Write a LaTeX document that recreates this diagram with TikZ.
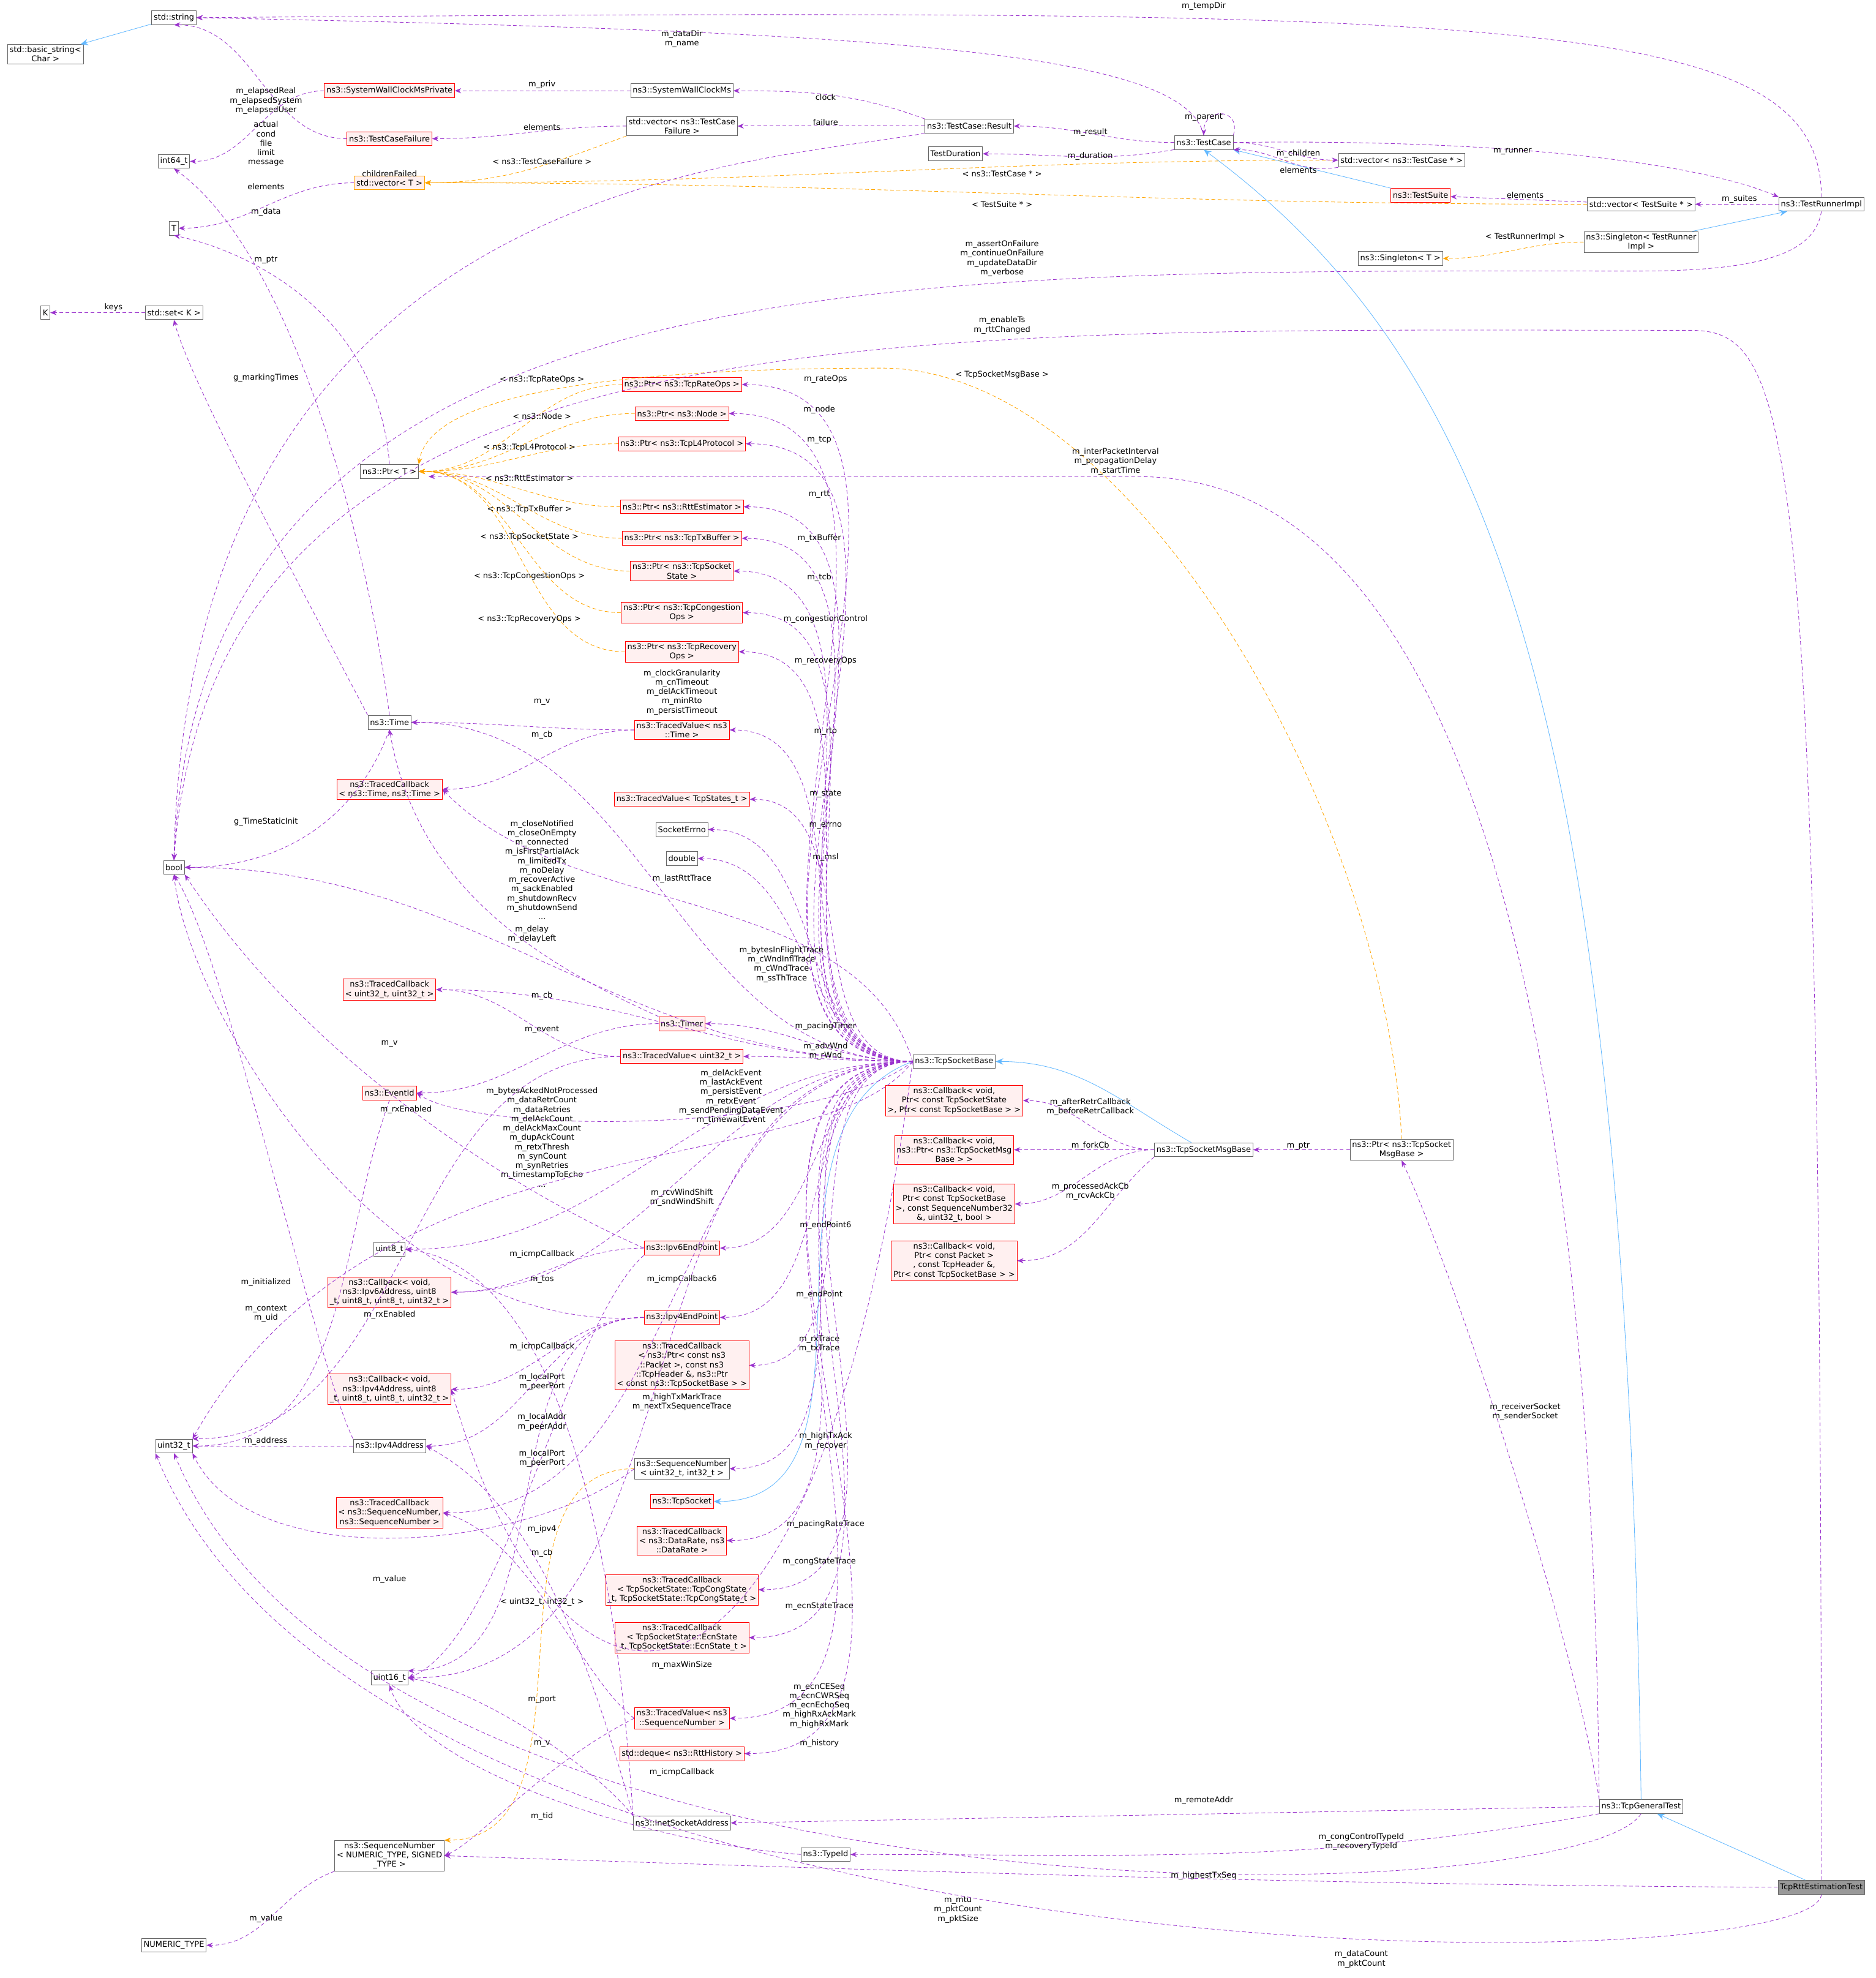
\documentclass[tikz,border=0pt]{standalone}
\usepackage{fontspec}
\setmainfont{DejaVu Sans}
\usetikzlibrary{arrows.meta}
\definecolor{puse}{RGB}{154,50,205}
\definecolor{inhc}{RGB}{99,184,255}
\definecolor{tpc}{RGB}{255,165,0}
\begin{document}
\begin{tikzpicture}[x=1pt,y=-1pt,
 box/.style={draw=black!60, rectangle, inner sep=1.6pt, minimum height=11pt, align=center, font=\fontsize{6.3}{7.4}\selectfont, fill=white},
 rbox/.style={box, draw=red, fill=red!6},
 gbox/.style={box, fill=black!40},
 use/.style={draw=puse, dash pattern=on 3pt off 2pt, -{Stealth[length=5pt,width=4pt]}},
 tmpl/.style={draw=tpc, dash pattern=on 3pt off 2pt, -{Stealth[length=5pt,width=4pt]}},
 inh/.style={draw=inhc, -{Stealth[length=6pt,width=5pt,fill=inhc]}},
 lab/.style={font=\fontsize{6.3}{7.4}\selectfont, align=center, inner sep=0.5pt}]
\useasboundingbox (0,0) rectangle (1488,1569);
% ---------- nodes
\node[box] (bs) at (36,43) {std::basic\_string\textless\\Char \textgreater};
\node[box] (str) at (138,14) {std::string};
\node[rbox] (swcp) at (309,72) {ns3::SystemWallClockMsPrivate};
\node[box] (swc) at (541,72) {ns3::SystemWallClockMs};
\node[box] (i64) at (138,128) {int64\_t};
\node[rbox] (tcf) at (309,110) {ns3::TestCaseFailure};
\node[box] (vtcf) at (541,100) {std::vector\textless{} ns3::TestCase\\Failure \textgreater};
\node[box] (res) at (769,100) {ns3::TestCase::Result};
\node[box] (tdur) at (758,122) {TestDuration};
\node[box] (tc) at (955,113) {ns3::TestCase};
\node[box] (vtc) at (1112,127) {std::vector\textless{} ns3::TestCase * \textgreater};
\node[rbox] (ts) at (1127,155) {ns3::TestSuite};
\node[box] (vts) at (1302,162) {std::vector\textless{} TestSuite * \textgreater};
\node[box] (tri) at (1445,162) {ns3::TestRunnerImpl};
\node[box] (stri) at (1302,192) {ns3::Singleton\textless{} TestRunner\\Impl \textgreater};
\node[box] (st) at (1111,205) {ns3::Singleton\textless{} T \textgreater};
\node[rbox,draw=tpc] (vt) at (309,145) {std::vector\textless{} T \textgreater};
\node[box] (T) at (138,181) {T};
\node[box] (K) at (36,248) {K};
\node[box] (setk) at (138,248) {std::set\textless{} K \textgreater};
\node[box] (ptrt) at (309,374) {ns3::Ptr\textless{} T \textgreater};
\node[rbox] (p1) at (541,305) {ns3::Ptr\textless{} ns3::TcpRateOps \textgreater};
\node[rbox] (p2) at (541,328) {ns3::Ptr\textless{} ns3::Node \textgreater};
\node[rbox] (p3) at (541,352) {ns3::Ptr\textless{} ns3::TcpL4Protocol \textgreater};
\node[rbox] (p4) at (541,402) {ns3::Ptr\textless{} ns3::RttEstimator \textgreater};
\node[rbox] (p5) at (541,427) {ns3::Ptr\textless{} ns3::TcpTxBuffer \textgreater};
\node[rbox] (p6) at (541,453) {ns3::Ptr\textless{} ns3::TcpSocket\\State \textgreater};
\node[rbox] (p7) at (541,486) {ns3::Ptr\textless{} ns3::TcpCongestion\\Ops \textgreater};
\node[rbox] (p8) at (541,517) {ns3::Ptr\textless{} ns3::TcpRecovery\\Ops \textgreater};
\node[box] (time) at (309,573) {ns3::Time};
\node[rbox] (tvt) at (541,579) {ns3::TracedValue\textless{} ns3\\::Time \textgreater};
\node[rbox] (tctt) at (309,626) {ns3::TracedCallback\\\textless{} ns3::Time, ns3::Time \textgreater};
\node[rbox] (tvst) at (541,634) {ns3::TracedValue\textless{} TcpStates\_t \textgreater};
\node[box] (serr) at (541,658) {SocketErrno};
\node[box] (dbl) at (541,681) {double};
\node[box] (bool) at (138,688) {bool};
\node[rbox] (tcuu) at (309,785) {ns3::TracedCallback\\\textless{} uint32\_t, uint32\_t \textgreater};
\node[rbox] (timer) at (541,812) {ns3::Timer};
\node[rbox] (tvu) at (541,838) {ns3::TracedValue\textless{} uint32\_t \textgreater};
\node[rbox] (eid) at (309,867) {ns3::EventId};
\node[box] (sb) at (757,842) {ns3::TcpSocketBase};
\node[rbox] (cb1) at (757,873) {ns3::Callback\textless{} void,\\Ptr\textless{} const TcpSocketState\\\textgreater, Ptr\textless{} const TcpSocketBase \textgreater{} \textgreater};
\node[rbox] (cb2) at (757,912) {ns3::Callback\textless{} void,\\ns3::Ptr\textless{} ns3::TcpSocketMsg\\Base \textgreater{} \textgreater};
\node[rbox] (cb3) at (757,955) {ns3::Callback\textless{} void,\\Ptr\textless{} const TcpSocketBase\\\textgreater, const SequenceNumber32\\\&, uint32\_t, bool \textgreater};
\node[rbox] (cb4) at (757,1000) {ns3::Callback\textless{} void,\\Ptr\textless{} const Packet \textgreater\\, const TcpHeader \&,\\Ptr\textless{} const TcpSocketBase \textgreater{} \textgreater};
\node[box] (smb) at (955,912) {ns3::TcpSocketMsgBase};
\node[box] (psmb) at (1112,912) {ns3::Ptr\textless{} ns3::TcpSocket\\MsgBase \textgreater};
\node[box] (u8) at (309,991) {uint8\_t};
\node[rbox] (e6) at (541,990) {ns3::Ipv6EndPoint};
\node[rbox] (cb6) at (309,1025) {ns3::Callback\textless{} void,\\ns3::Ipv6Address, uint8\\\_t, uint8\_t, uint8\_t, uint32\_t \textgreater};
\node[rbox] (e4) at (541,1045) {ns3::Ipv4EndPoint};
\node[rbox] (tcpk) at (541,1083) {ns3::TracedCallback\\\textless{} ns3::Ptr\textless{} const ns3\\::Packet \textgreater, const ns3\\::TcpHeader \&, ns3::Ptr\\\textless{} const ns3::TcpSocketBase \textgreater{} \textgreater};
\node[rbox] (cb4a) at (309,1102) {ns3::Callback\textless{} void,\\ns3::Ipv4Address, uint8\\\_t, uint8\_t, uint8\_t, uint32\_t \textgreater};
\node[box] (u32) at (138,1147) {uint32\_t};
\node[box] (ip4) at (309,1147) {ns3::Ipv4Address};
\node[box] (squi) at (541,1165) {ns3::SequenceNumber\\\textless{} uint32\_t, int32\_t \textgreater};
\node[rbox] (tcsn) at (309,1200) {ns3::TracedCallback\\\textless{} ns3::SequenceNumber,\\ns3::SequenceNumber \textgreater};
\node[rbox] (tsock) at (541,1191) {ns3::TcpSocket};
\node[rbox] (tcdr) at (541,1222) {ns3::TracedCallback\\\textless{} ns3::DataRate, ns3\\::DataRate \textgreater};
\node[rbox] (tccs) at (541,1261) {ns3::TracedCallback\\\textless{} TcpSocketState::TcpCongState\\\_t, TcpSocketState::TcpCongState\_t \textgreater};
\node[rbox] (tces) at (541,1299) {ns3::TracedCallback\\\textless{} TcpSocketState::EcnState\\\_t, TcpSocketState::EcnState\_t \textgreater};
\node[box] (u16) at (309,1331) {uint16\_t};
\node[rbox] (tvsn) at (541,1363) {ns3::TracedValue\textless{} ns3\\::SequenceNumber \textgreater};
\node[rbox] (dq) at (541,1391) {std::deque\textless{} ns3::RttHistory \textgreater};
\node[box] (inet) at (541,1446) {ns3::InetSocketAddress};
\node[box] (tid) at (655,1471) {ns3::TypeId};
\node[box] (snt) at (309,1472) {ns3::SequenceNumber\\\textless{} NUMERIC\_TYPE, SIGNED\\\_TYPE \textgreater};
\node[box] (num) at (138,1543) {NUMERIC\_TYPE};
\node[box] (gt) at (1302,1433) {ns3::TcpGeneralTest};
\node[gbox] (rt) at (1445,1497) {TcpRttEstimationTest};
% ---------- inheritance
\draw[inh] (str) -- (bs);
\draw[inh] (ts) -- (tc);
\draw[inh] (stri) -- (tri);
\draw[inh] (rt) -- (gt);
\draw[inh] (gt.north) .. controls (1290,600) and (1200,300) .. (tc.south);
\draw[inh] (smb) to[out=150,in=0] (sb.east);
\draw[inh] (sb.west) to[out=200,in=0] (tsock.east);
% ---------- templates
\draw[tmpl] (vtcf.south west) to[out=200,in=0] (vt.east);
\draw[tmpl] (vtc.west) to[out=180,in=0] (vt.east);
\draw[tmpl] (vts.west) to[out=180,in=0] (vt.east);
\draw[tmpl] (stri) to[out=180,in=0] (st);
\foreach \p in {p1,p2,p3,p4,p5,p6,p7,p8} \draw[tmpl] (\p.west) to[out=180,in=0] (ptrt.east);
\draw[tmpl] (psmb.north) .. controls (1100,650) and (900,292) .. (700,292) .. controls (450,292) and (340,320) .. (ptrt.north east);
\draw[tmpl] (squi.west) to[out=180,in=0] (snt.north east);
% ---------- uses (test framework)
\draw[use] (tri.north) .. controls (1445,10) and (1200,6) .. (str.east);
\draw[use] (tc.north) .. controls (940,40) and (700,25) .. (str.east);
\draw[use] (swc) -- (swcp);
\draw[use] (swcp.west) to[out=180,in=0] (i64.east);
\draw[use] (tcf.west) to[out=180,in=0] (str.south);
\draw[use] (vtcf) to[out=180,in=0] (tcf);
\draw[use] (res.north west) to[out=160,in=0] (swc.east);
\draw[use] (res) -- (vtcf);
\draw[use] (res.south west) .. controls (600,130) and (150,140) .. (bool.north);
\draw[use] (tc.west) to[out=180,in=0] (res.east);
\draw[use] (tc.south west) to[out=190,in=0] (tdur.east);
\draw[use] (tc.north east) .. controls (985,85) and (955,85) .. (tc.north);
\draw[use] (tc.east) to[out=0,in=180] (vtc.west);
\draw[use] (vtc.south west) to[out=190,in=0] (tc.south east);
\draw[use] (vts) -- (ts);
\draw[use] (tri) -- (vts);
\draw[use] (tc.east) .. controls (1200,110) and (1350,130) .. (tri.north west);
\draw[use] (vt.west) to[out=180,in=0] (T.east);
\draw[use] (tri.south) .. controls (1440,200) and (1400,215) .. (1300,215) .. controls (700,215) and (160,200) .. (bool.north);
\draw[use] (setk) -- (K);
\draw[use] (ptrt.north) .. controls (300,250) and (200,200) .. (T.south);
\draw[use] (time.north) .. controls (290,420) and (230,200) .. (i64.south);
\draw[use] (time.north west) .. controls (230,450) and (150,300) .. (setk.south);
\draw[use] (time.south) to[out=250,in=0] (bool.east);
\draw[use] (rt.north) .. controls (1445,320) and (1420,262) .. (1340,262) .. controls (700,262) and (170,240) .. (bool.north);
\draw[use] (gt.north west) .. controls (1260,420) and (1000,378) .. (900,378) -- (340,378);
% ---------- TcpSocketBase uses
\foreach \p in {p1,p2,p3,p4,p5,p6,p7,p8,tvt,tvst,serr,dbl,timer,tvu,e6,e4,tcpk,squi,tcdr,tccs,tces,tvsn,dq}
  \draw[use] (sb.west) to[out=180,in=0] (\p.east);
\draw[use] (sb.west) to[out=180,in=0] (time.east);
\draw[use] (sb.west) .. controls (680,700) and (450,730) .. (tctt.east);
\draw[use] (sb.west) to[out=180,in=0] (bool.east);
\draw[use] (sb.west) to[out=180,in=0] (tcuu.east);
\draw[use] (sb.west) .. controls (650,900) and (380,900) .. (eid.east);
\draw[use] (sb.west) .. controls (650,940) and (300,880) .. (u32.north east);
\draw[use] (sb.west) to[out=180,in=0] (u8.east);
\draw[use] (sb.west) to[out=180,in=0] (cb6.east);
\draw[use] (sb.west) to[out=180,in=0] (tcsn.east);
\draw[use] (sb.west) to[out=180,in=0] (u16.east);
\draw[use] (sb.west) .. controls (650,1400) and (450,1420) .. (cb4a.east);
% ---------- inner uses
\draw[use] (tvt.west) to[out=180,in=0] (time.east);
\draw[use] (tvt.west) to[out=180,in=0] (tctt.east);
\draw[use] (tvu.west) to[out=180,in=0] (tcuu.east);
\draw[use] (timer.north west) .. controls (420,760) and (330,700) .. (time.south);
\draw[use] (timer.west) to[out=180,in=0] (eid.east);
\draw[use] (tvu.west) to[out=180,in=0] (u32.north east);
\draw[use] (eid.south) to[out=250,in=0] (u32.east);
\draw[use] (e6.west) .. controls (420,950) and (250,850) .. (bool.south east);
\draw[use] (e6.west) to[out=180,in=0] (cb6.east);
\draw[use] (e6.south west) .. controls (450,1050) and (400,1300) .. (u16.east);
\draw[use] (e4.west) .. controls (300,1060) and (150,800) .. (bool.south);
\draw[use] (e4.west) to[out=180,in=0] (cb4a.east);
\draw[use] (e4.west) to[out=180,in=0] (u16.north east);
\draw[use] (e4.west) to[out=180,in=0] (ip4.east);
\draw[use] (ip4) -- (u32);
\draw[use] (ip4.north west) .. controls (250,1080) and (180,760) .. (bool.south);
\draw[use] (inet.north west) .. controls (450,1250) and (400,1180) .. (ip4.east);
\draw[use] (inet.north west) .. controls (470,1400) and (380,1340) .. (u16.east);
\draw[use] (inet.north west) .. controls (480,1100) and (400,1000) .. (u8.east);
\draw[use] (tvsn.west) .. controls (460,1330) and (420,1220) .. (tcsn.east);
\draw[use] (tvsn.west) .. controls (430,1400) and (380,1460) .. (snt.east);
\draw[use] (squi.west) .. controls (420,1230) and (200,1250) .. (u32.south east);
\draw[use] (snt.south west) to[out=200,in=0] (num.east);
\draw[use] (tid.west) .. controls (500,1460) and (330,1400) .. (u16.south);
\draw[use] (smb.west) to[out=180,in=0] (cb1.east);
\draw[use] (smb) -- (cb2);
\draw[use] (smb.west) to[out=180,in=0] (cb3.east);
\draw[use] (smb.south west) to[out=220,in=0] (cb4.east);
\draw[use] (psmb) -- (smb);
\draw[use] (gt.north west) .. controls (1250,1300) and (1150,1000) .. (psmb.south);
\draw[use] (gt.west) -- (inet.east);
\draw[use] (gt.south west) to[out=190,in=0] (tid.east);
\draw[use] (gt.south) .. controls (1250,1520) and (300,1540) .. (u32.south);
\draw[use] (rt.west) .. controls (1000,1495) and (600,1480) .. (snt.east);
\draw[use] (rt.south) .. controls (1440,1575) and (300,1585) .. (u32.south west);
% ---------- labels
\node[lab] at (955,5) {m\_tempDir};
\node[lab] at (541,31) {m\_dataDir\\m\_name};
\node[lab] at (430,67) {m\_priv};
\node[lab] at (211,80) {m\_elapsedReal\\m\_elapsedSystem\\m\_elapsedUser};
\node[lab] at (211,114) {actual\\cond\\file\\limit\\message};
\node[lab] at (430,101) {elements};
\node[lab] at (430,128) {\textless{} ns3::TestCaseFailure \textgreater};
\node[lab] at (655,77) {clock};
\node[lab] at (655,97) {failure};
\node[lab] at (309,138) {childrenFailed};
\node[lab] at (865,105) {m\_result};
\node[lab] at (865,124) {m\_duration};
\node[lab] at (955,93) {m\_parent};
\node[lab] at (1030,122) {m\_children};
\node[lab] at (1030,135) {elements};
\node[lab] at (795,138) {\textless{} ns3::TestCase * \textgreater};
\node[lab] at (795,162) {\textless{} TestSuite * \textgreater};
\node[lab] at (1210,155) {elements};
\node[lab] at (1380,158) {m\_suites};
\node[lab] at (1200,120) {m\_runner};
\node[lab] at (1210,188) {\textless{} TestRunnerImpl \textgreater};
\node[lab] at (211,148) {elements};
\node[lab] at (795,205) {m\_assertOnFailure\\m\_continueOnFailure\\m\_updateDataDir\\m\_verbose};
\node[lab] at (90,244) {keys};
\node[lab] at (211,206) {m\_ptr};
\node[lab] at (211,168) {m\_data};
\node[lab] at (211,300) {g\_markingTimes};
\node[lab] at (211,652) {g\_TimeStaticInit};
\node[lab] at (795,258) {m\_enableTs\\m\_rttChanged};
\node[lab] at (885,366) {m\_interPacketInterval\\m\_propagationDelay\\m\_startTime};
\node[lab] at (795,297) {\textless{} TcpSocketMsgBase \textgreater};
\node[lab] at (430,301) {\textless{} ns3::TcpRateOps \textgreater};
\node[lab] at (430,330) {\textless{} ns3::Node \textgreater};
\node[lab] at (420,355) {\textless{} ns3::TcpL4Protocol \textgreater};
\node[lab] at (420,379) {\textless{} ns3::RttEstimator \textgreater};
\node[lab] at (420,404) {\textless{} ns3::TcpTxBuffer \textgreater};
\node[lab] at (420,426) {\textless{} ns3::TcpSocketState \textgreater};
\node[lab] at (420,457) {\textless{} ns3::TcpCongestionOps \textgreater};
\node[lab] at (420,491) {\textless{} ns3::TcpRecoveryOps \textgreater};
\node[lab] at (655,301) {m\_rateOps};
\node[lab] at (650,325) {m\_node};
\node[lab] at (650,349) {m\_tcp};
\node[lab] at (650,392) {m\_rtt};
\node[lab] at (650,427) {m\_txBuffer};
\node[lab] at (650,458) {m\_tcb};
\node[lab] at (655,491) {m\_congestionControl};
\node[lab] at (655,524) {m\_recoveryOps};
\node[lab] at (541,549) {m\_clockGranularity\\m\_cnTimeout\\m\_delAckTimeout\\m\_minRto\\m\_persistTimeout};
\node[lab] at (655,580) {m\_rto};
\node[lab] at (430,557) {m\_v};
\node[lab] at (430,583) {m\_cb};
\node[lab] at (655,630) {m\_state};
\node[lab] at (655,655) {m\_errno};
\node[lab] at (655,680) {m\_msl};
\node[lab] at (541,697) {m\_lastRttTrace};
\node[lab] at (430,690) {m\_closeNotified\\m\_closeOnEmpty\\m\_connected\\m\_isFirstPartialAck\\m\_limitedTx\\m\_noDelay\\m\_recoverActive\\m\_sackEnabled\\m\_shutdownRecv\\m\_shutdownSend\\...};
\node[lab] at (422,741) {m\_delay\\m\_delayLeft};
\node[lab] at (620,765) {m\_bytesInFlightTrace\\m\_cWndInflTrace\\m\_cWndTrace\\m\_ssThTrace};
\node[lab] at (430,790) {m\_cb};
\node[lab] at (655,814) {m\_pacingTimer};
\node[lab] at (430,817) {m\_event};
\node[lab] at (655,834) {m\_advWnd\\m\_rWnd};
\node[lab] at (309,828) {m\_v};
\node[lab] at (580,870) {m\_delAckEvent\\m\_lastAckEvent\\m\_persistEvent\\m\_retxEvent\\m\_sendPendingDataEvent\\m\_timewaitEvent};
\node[lab] at (322,880) {m\_rxEnabled};
\node[lab] at (430,902) {m\_bytesAckedNotProcessed\\m\_dataRetrCount\\m\_dataRetries\\m\_delAckCount\\m\_delAckMaxCount\\m\_dupAckCount\\m\_retxThresh\\m\_synCount\\m\_synRetries\\m\_timestampToEcho\\...};
\node[lab] at (541,950) {m\_rcvWindShift\\m\_sndWindShift};
\node[lab] at (655,972) {m\_endPoint6};
\node[lab] at (430,995) {m\_icmpCallback};
\node[lab] at (430,1015) {m\_tos};
\node[lab] at (211,1017) {m\_initialized};
\node[lab] at (541,1015) {m\_icmpCallback6};
\node[lab] at (650,1027) {m\_endPoint};
\node[lab] at (211,1042) {m\_context\\m\_uid};
\node[lab] at (309,1043) {m\_rxEnabled};
\node[lab] at (430,1068) {m\_icmpCallback};
\node[lab] at (650,1066) {m\_rxTrace\\m\_txTrace};
\node[lab] at (430,1096) {m\_localPort\\m\_peerPort};
\node[lab] at (541,1112) {m\_highTxMarkTrace\\m\_nextTxSequenceTrace};
\node[lab] at (430,1128) {m\_localAddr\\m\_peerAddr};
\node[lab] at (211,1143) {m\_address};
\node[lab] at (655,1143) {m\_highTxAck\\m\_recover};
\node[lab] at (430,1157) {m\_localPort\\m\_peerPort};
\node[lab] at (655,1209) {m\_pacingRateTrace};
\node[lab] at (430,1213) {m\_ipv4};
\node[lab] at (430,1232) {m\_cb};
\node[lab] at (650,1239) {m\_congStateTrace};
\node[lab] at (309,1253) {m\_value};
\node[lab] at (430,1271) {\textless{} uint32\_t, int32\_t \textgreater};
\node[lab] at (650,1274) {m\_ecnStateTrace};
\node[lab] at (541,1321) {m\_maxWinSize};
\node[lab] at (430,1348) {m\_port};
\node[lab] at (650,1353) {m\_ecnCESeq\\m\_ecnCWRSeq\\m\_ecnEchoSeq\\m\_highRxAckMark\\m\_highRxMark};
\node[lab] at (430,1383) {m\_v};
\node[lab] at (650,1383) {m\_history};
\node[lab] at (541,1406) {m\_icmpCallback};
\node[lab] at (430,1441) {m\_tid};
\node[lab] at (955,1428) {m\_remoteAddr};
\node[lab] at (1080,1461) {m\_congControlTypeId\\m\_recoveryTypeId};
\node[lab] at (1210,1120) {m\_receiverSocket\\m\_senderSocket};
\node[lab] at (955,1488) {m\_highestTxSeq};
\node[lab] at (760,1515) {m\_mtu\\m\_pktCount\\m\_pktSize};
\node[lab] at (1080,1554) {m\_dataCount\\m\_pktCount};
\node[lab] at (211,1522) {m\_value};
\node[lab] at (865,878) {m\_afterRetrCallback\\m\_beforeRetrCallback};
\node[lab] at (865,909) {m\_forkCb};
\node[lab] at (865,945) {m\_processedAckCb\\m\_rcvAckCb};
\node[lab] at (1030,909) {m\_ptr};
\end{tikzpicture}
\end{document}
